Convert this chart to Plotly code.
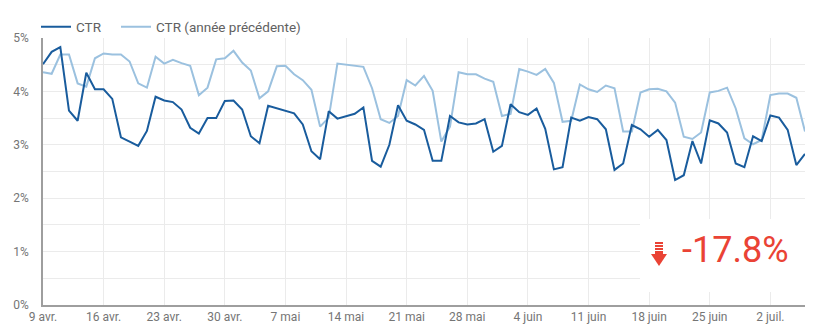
import plotly.graph_objects as go
import pandas as pd

# ---- data ----
start_date = "2023-04-09"
ctr = [4.51, 4.74, 4.83, 3.64, 3.45, 4.35, 4.04, 4.04, 3.86, 3.14,
       3.06, 2.98, 3.26, 3.90, 3.83, 3.80, 3.66, 3.32, 3.21, 3.50,
       3.50, 3.82, 3.83, 3.66, 3.16, 3.03, 3.73, 3.68, 3.64, 3.59,
       3.38, 2.88, 2.73, 3.63, 3.49, 3.53, 3.58, 3.70, 2.70, 2.59,
       3.00, 3.74, 3.45, 3.38, 3.28, 2.70, 2.70, 3.54, 3.42, 3.38,
       3.40, 3.48, 2.87, 2.98, 3.76, 3.61, 3.56, 3.68, 3.30, 2.54,
       2.58, 3.51, 3.45, 3.52, 3.48, 3.29, 2.53, 2.65, 3.37, 3.29,
       3.15, 3.28, 3.09, 2.34, 2.43, 3.07, 2.65, 3.46, 3.40, 3.23,
       2.65, 2.58, 3.16, 3.07, 3.55, 3.51, 3.28, 2.62, 2.83]
ctr_prev = [4.36, 4.33, 4.69, 4.69, 4.15, 4.09, 4.62, 4.71, 4.69, 4.69,
            4.56, 4.15, 4.07, 4.65, 4.52, 4.59, 4.53, 4.48, 3.93, 4.07,
            4.60, 4.62, 4.76, 4.54, 4.39, 3.87, 4.00, 4.47, 4.48, 4.32,
            4.21, 4.03, 3.34, 3.51, 4.52, 4.50, 4.48, 4.46, 4.06, 3.48,
            3.41, 3.54, 4.21, 4.11, 4.29, 4.01, 3.06, 3.34, 4.36, 4.32,
            4.32, 4.24, 4.18, 3.54, 3.58, 4.42, 4.37, 4.31, 4.42, 4.16,
            3.43, 3.45, 4.13, 4.04, 3.99, 4.11, 4.06, 3.25, 3.25, 3.98,
            4.04, 4.05, 4.00, 3.79, 3.15, 3.11, 3.23, 3.98, 4.01, 4.07,
            3.68, 3.12, 3.01, 3.09, 3.93, 3.96, 3.96, 3.88, 3.25]
tick_dates = ["2023-04-09", "2023-04-16", "2023-04-23", "2023-04-30",
              "2023-05-07", "2023-05-14", "2023-05-21", "2023-05-28",
              "2023-06-04", "2023-06-11", "2023-06-18", "2023-06-25",
              "2023-07-02"]
tick_labels = ["9 avr.", "16 avr.", "23 avr.", "30 avr.", "7 mai", "14 mai",
               "21 mai", "28 mai", "4 juin", "11 juin", "18 juin", "25 juin",
               "2 juil."]
y_ticks = [0, 1, 2, 3, 4, 5]
y_tick_labels = ["0%", "1%", "2%", "3%", "4%", "5%"]
delta_text = "-17.8%"
series_names = ["CTR", "CTR (année précédente)"]

dates = pd.date_range(start_date, periods=len(ctr), freq="D")

# ---- layout geometry (pixels) ----
W, H = 825, 336
L, R, T, B = 43, 20, 38, 31
PW, PH = W - L - R, H - T - B


def px(x):
    return (x - L) / PW


def py(y):
    return (H - B - y) / PH


DARK = "#195c9d"
LIGHT = "#9bc1df"
GRID = "#ebebeb"
TXT = "#757575"
RED = "#ea4335"

fig = go.Figure()
fig.add_trace(go.Scatter(x=dates, y=ctr_prev, name=series_names[1], mode="lines",
                         line=dict(color=LIGHT, width=2), legend="legend2"))
fig.add_trace(go.Scatter(x=dates, y=ctr, name=series_names[0], mode="lines",
                         line=dict(color=DARK, width=2), legend="legend"))

shapes = []
# white box behind delta
shapes.append(dict(type="rect", xref="paper", yref="paper",
                   x0=px(640), x1=px(805), y0=py(292), y1=py(219),
                   fillcolor="white", line=dict(width=0), layer="above"))
# striped arrow icon
for (a, b) in [(242, 244), (245, 247), (248, 250), (251, 254.5)]:
    shapes.append(dict(type="rect", xref="paper", yref="paper",
                       x0=px(655), x1=px(663), y0=py(b), y1=py(a),
                       fillcolor=RED, line=dict(width=0), layer="above"))
path = "M {} {} L {} {} L {} {} Z".format(px(651), py(254), px(667), py(254), px(659), py(266))
shapes.append(dict(type="path", xref="paper", yref="paper", path=path,
                   fillcolor=RED, line=dict(width=0), layer="above"))

legend_common = dict(orientation="h", xanchor="left", yanchor="middle",
                     font=dict(size=13.5, color="#616161"),
                     bgcolor="rgba(0,0,0,0)", itemwidth=30)

fig.update_layout(
    width=W, height=H,
    margin=dict(l=L, r=R, t=T, b=B, pad=0),
    paper_bgcolor="white", plot_bgcolor="white",
    font=dict(family="Roboto", color=TXT, size=12),
    showlegend=True,
    legend=dict(x=px(36), y=py(27), **legend_common),
    legend2=dict(x=px(116), y=py(27), **legend_common),
    shapes=shapes,
    annotations=[dict(text=delta_text, xref="paper", yref="paper",
                      x=px(680), y=py(250), xanchor="left", yanchor="middle",
                      showarrow=False, font=dict(family="Roboto", size=36, color=RED))],
    hovermode=False,
)
fig.update_xaxes(
    range=[dates[0], dates[-1]],
    tickvals=pd.to_datetime(tick_dates), ticktext=tick_labels,
    showgrid=True, gridcolor=GRID, gridwidth=1,
    showline=True, linecolor="#9e9e9e", linewidth=1.5,
    ticks="", tickfont=dict(size=12, color=TXT), zeroline=False,
)
fig.update_yaxes(
    range=[0, 5], tickvals=y_ticks, ticktext=y_tick_labels,
    showgrid=True, gridcolor=GRID, gridwidth=1,
    minor=dict(dtick=0.5, showgrid=True, gridcolor=GRID, gridwidth=1),
    showline=True, linecolor="#9e9e9e", linewidth=1.5,
    ticks="", ticklabelstandoff=10, tickfont=dict(size=12, color=TXT), zeroline=False,
)

fig.write_html("out.html")
